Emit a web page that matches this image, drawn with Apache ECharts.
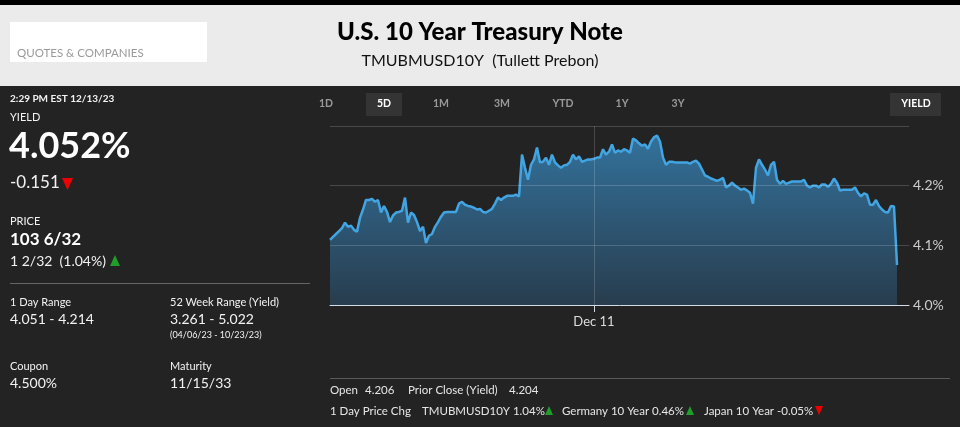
<!DOCTYPE html>
<html>
<head>
<meta charset="utf-8">
<script src="https://cdn.jsdelivr.net/npm/echarts@6/dist/echarts.min.js"></script>
<style>
html,body{margin:0;padding:0;background:#232323;}
#c{width:960px;height:427px;}
</style>
</head>
<body>
<div id="c"></div>
<script>
// ---- data ----
const yieldValues = [
4.109,4.114,4.119,4.124,4.129,4.138,4.131,4.133,4.126,4.123,
4.146,4.160,4.176,4.176,4.178,4.173,4.176,4.155,4.166,4.156,
4.139,4.150,4.155,4.156,4.158,4.180,4.138,4.155,4.151,4.139,
4.124,4.131,4.104,4.116,4.119,4.131,4.139,4.148,4.155,4.156,
4.156,4.156,4.156,4.170,4.173,4.168,4.166,4.165,4.163,4.160,
4.161,4.156,4.155,4.158,4.161,4.170,4.180,4.176,4.180,4.183,
4.183,4.183,4.185,4.182,4.252,4.230,4.210,4.235,4.244,4.264,
4.239,4.240,4.247,4.235,4.252,4.239,4.234,4.230,4.234,4.235,
4.240,4.252,4.244,4.249,4.240,4.242,4.244,4.244,4.245,4.247,
4.247,4.261,4.252,4.257,4.269,4.255,4.259,4.257,4.261,4.259,
4.255,4.279,4.276,4.271,4.267,4.269,4.262,4.274,4.281,4.284,
4.274,4.247,4.235,4.240,4.240,4.239,4.239,4.239,4.239,4.239,
4.237,4.240,4.242,4.237,4.227,4.217,4.215,4.212,4.210,4.208,
4.210,4.213,4.197,4.200,4.205,4.200,4.197,4.193,4.195,4.192,
4.188,4.170,4.230,4.244,4.235,4.227,4.217,4.235,4.240,4.210,
4.203,4.208,4.203,4.205,4.207,4.207,4.207,4.207,4.210,4.200,
4.197,4.200,4.200,4.197,4.202,4.202,4.198,4.203,4.212,4.205,
4.192,4.193,4.193,4.193,4.193,4.197,4.188,4.182,4.187,4.185,
4.168,4.168,4.176,4.166,4.160,4.156,4.155,4.166,4.165,4.067
];
const emptySlots = 4; // axis continues a little after the last quote
const xTicks = [{ index: 88, label: 'Dec 11' }];
const yTicks = [4.0, 4.1, 4.2, 4.3];
const yTickLabels = ['4.0%', '4.1%', '4.2%', ''];
const tabs = ['1D', '5D', '1M', '3M', 'YTD', '1Y', '3Y'];

const seriesData = yieldValues.concat(new Array(emptySlots).fill(null));
const categories = seriesData.map((_, i) => String(i));
const tickIdx = xTicks.map(t => t.index);

const FONT = 'Lato, "Liberation Sans", sans-serif';
function T(text, x, y, size, color, weight, align) {
  return { type: 'text', silent: true, style: {
    text, x, y, fill: color || '#f2f2f2',
    font: (weight || 'normal') + ' ' + size + 'px ' + FONT,
    textAlign: align || 'left', textVerticalAlign: 'middle' } };
}
function R(x, y, w, h, fill) {
  return { type: 'rect', silent: true, shape: { x, y, width: w, height: h }, style: { fill } };
}
function L(x1, y1, x2, y2, color) {
  return { type: 'line', silent: true, shape: { x1, y1, x2, y2 }, style: { stroke: color, lineWidth: 1 } };
}
function tri(x, y, w, h, up, color) {
  const pts = up ? [[x, y + h], [x + w, y + h], [x + w / 2, y]] : [[x, y], [x + w, y], [x + w / 2, y + h]];
  return { type: 'polygon', silent: true, shape: { points: pts }, style: { fill: color } };
}

const graphics = [
  R(0, 0, 960, 5, '#000000'),
  R(0, 5, 960, 81, '#ebebeb'),
  R(10, 22, 197, 40, '#ffffff'),
  T('QUOTES & COMPANIES', 17, 53, 11.5, '#9a9a9a'),
  T('U.S. 10 Year Treasury Note', 480, 32, 24, '#000000', '900', 'center'),
  T('TMUBMUSD10Y  (Tullett Prebon)', 480, 61, 16, '#111111', 'normal', 'center'),

  T('2:29 PM EST 12/13/23', 10, 99, 10, '#f2f2f2', 'bold'),
  T('YIELD', 10, 117, 11),
  T('4.052%', 9, 146, 36, '#ffffff', 'bold'),
  T('-0.151', 10, 183, 17),
  tri(62, 178, 11, 12, false, '#ee0000'),
  T('PRICE', 10, 221, 11),
  T('103 6/32', 10, 240, 17, '#ffffff', 'bold'),
  T('1 2/32  (1.04%)', 10, 261, 14),
  tri(110, 255, 10, 11, true, '#1f9e2a'),
  L(10, 283.5, 310, 283.5, '#666666'),
  T('1 Day Range', 10, 302, 11),
  T('4.051 - 4.214', 10, 319, 14),
  T('52 Week Range (Yield)', 170, 302, 11),
  T('3.261 - 5.022', 170, 319, 14),
  T('(04/06/23 - 10/23/23)', 170, 335, 9),
  T('Coupon', 10, 366, 11),
  T('4.500%', 10, 383, 14),
  T('Maturity', 170, 366, 11),
  T('11/15/33', 170, 383, 14),

  R(366, 93, 36, 23, '#343434'),
  R(890, 93, 51, 23, '#343434'),
  T('YIELD', 916, 104, 10.5, '#ffffff', 'bold', 'center'),

  L(330, 378.5, 950, 378.5, '#5a5a5a'),
  T('Open', 330, 390, 11.5, '#e6e6e6'),
  T('4.206', 365, 390, 11.5, '#e6e6e6'),
  T('Prior Close (Yield)', 408, 390, 11.5, '#e6e6e6'),
  T('4.204', 509, 390, 11.5, '#e6e6e6'),
  T('1 Day Price Chg', 330, 411, 11.5, '#e6e6e6'),
  T('TMUBMUSD10Y 1.04%', 422, 411, 11.5, '#e6e6e6'),
  tri(545, 406, 8, 9, true, '#1f9e2a'),
  T('Germany 10 Year 0.46%', 562, 411, 11.5, '#e6e6e6'),
  tri(686, 406, 8, 9, true, '#1f9e2a'),
  T('Japan 10 Year -0.05%', 704, 411, 11.5, '#e6e6e6'),
  tri(815, 406, 8, 9, false, '#ee0000')
];
const tabX = [326, 384, 441, 502, 563, 622, 678];
tabs.forEach((t, i) => {
  graphics.push(T(t, tabX[i], 104, 10.5, t === '5D' ? '#ffffff' : '#9a9a9a', 'bold', 'center'));
});

const chart = echarts.init(document.getElementById('c'), null, { renderer: 'canvas' });
chart.setOption({
  backgroundColor: '#232323',
  animation: false,
  grid: { left: 330, right: 51, top: 126, bottom: 122 },
  xAxis: {
    type: 'category', data: categories, boundaryGap: false, z: 5,
    axisLine: { show: true, lineStyle: { color: '#d4dbe8', width: 1 } },
    axisTick: { show: true, length: 7, interval: i => tickIdx.includes(i), lineStyle: { color: '#d4dbe8' } },
    axisLabel: { show: true, interval: i => tickIdx.includes(i), margin: 10,
      formatter: (v, i) => { const t = xTicks.find(k => k.index === Number(v)); return t ? t.label : ''; },
      color: '#dddddd', fontSize: 13, fontFamily: FONT },
    splitLine: { show: true, interval: i => tickIdx.includes(i), lineStyle: { color: 'rgba(255,255,255,0.17)', width: 1 } }
  },
  yAxis: {
    type: 'value', position: 'right', min: 4.0, max: 4.3, interval: 0.1, z: 5,
    axisLine: { show: false }, axisTick: { show: false },
    axisLabel: { margin: 4, color: '#cccccc', fontSize: 14, fontFamily: FONT,
      formatter: v => { const k = yTicks.findIndex(t => Math.abs(t - v) < 1e-6); return k >= 0 ? yTickLabels[k] : ''; } },
    splitLine: { show: true, lineStyle: { color: 'rgba(255,255,255,0.17)', width: 1 } }
  },
  series: [{
    type: 'line', data: seriesData, showSymbol: false, symbol: 'none', z: 2,
    lineStyle: { color: '#42a5e2', width: 2.5 },
    areaStyle: { origin: 'start', color: new echarts.graphic.LinearGradient(0, 0, 0, 1, [
      { offset: 0, color: '#3a93cf' }, { offset: 1, color: '#2a4860' }]) }
  }],
  graphic: graphics
});
</script>
</body>
</html>
